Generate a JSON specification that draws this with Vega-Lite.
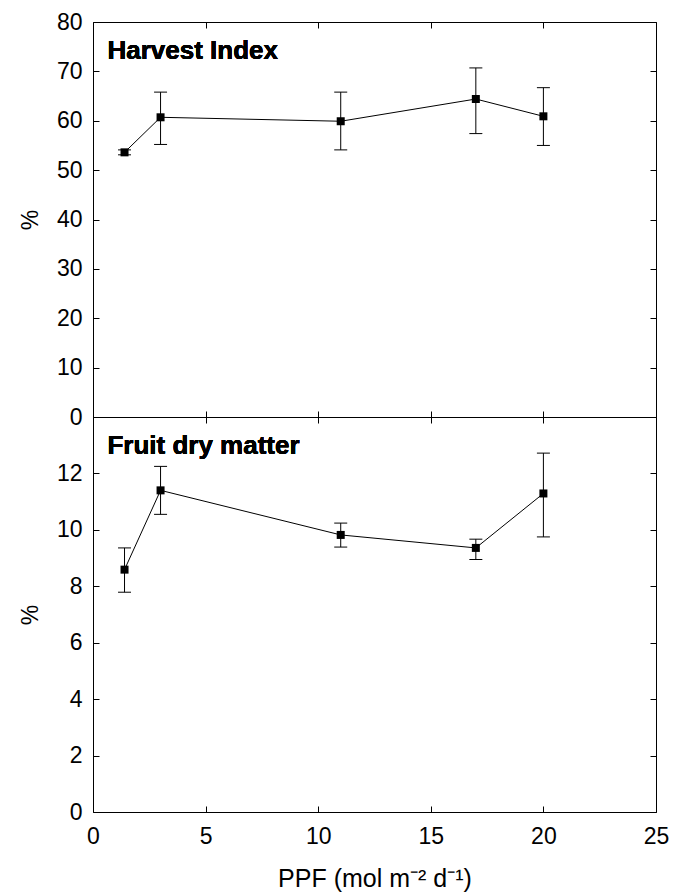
{
  "$schema": "https://vega.github.io/schema/vega-lite/v6.json",
  "padding": {"left": 19, "top": 11, "right": 20, "bottom": 5},
  "background": "white",
  "spacing": 0,
  "bounds": "flush",
  "config": {
    "view": {"stroke": null},
    "font": "Liberation Sans",
    "axis": {
      "grid": false,
      "domainColor": "#000",
      "domainWidth": 1,
      "tickColor": "#000",
      "tickSize": -6,
      "tickWidth": 1,
      "labelFlush": false,
      "labelOverlap": false,
      "labelFont": "Liberation Sans",
      "labelFontSize": 23,
      "labelColor": "#000",
      "titleFont": "Liberation Sans",
      "titleFontSize": 23,
      "titleFontWeight": "normal",
      "titleColor": "#000"
    },
    "axisLeft": {"labelPadding": 17},
    "axisBottom": {"labelPadding": 19}
  },
  "datasets": {
    "hi": [
      {"ppf": 1.4, "mean": 53.6, "lo": 53.1, "hi": 54.1},
      {"ppf": 3, "mean": 60.7, "lo": 55.2, "hi": 65.8},
      {"ppf": 11, "mean": 59.9, "lo": 54.1, "hi": 65.8},
      {"ppf": 17, "mean": 64.4, "lo": 57.4, "hi": 70.7},
      {"ppf": 20, "mean": 60.9, "lo": 55.0, "hi": 66.7}
    ],
    "fdm": [
      {"ppf": 1.4, "mean": 8.59, "lo": 7.79, "hi": 9.36},
      {"ppf": 3, "mean": 11.4, "lo": 10.55, "hi": 12.25},
      {"ppf": 11, "mean": 9.82, "lo": 9.39, "hi": 10.24},
      {"ppf": 17, "mean": 9.36, "lo": 8.95, "hi": 9.67},
      {"ppf": 20, "mean": 11.29, "lo": 9.75, "hi": 12.72}
    ]
  },
  "vconcat": [
    {
      "width": 563,
      "height": 395,
      "data": {"name": "hi"},
      "resolve": {"axis": {"x": "independent", "y": "independent"}},
      "layer": [
        {
          "mark": {"type": "line", "color": "#000", "strokeWidth": 1},
          "encoding": {
            "x": {"field": "ppf", "type": "quantitative", "scale": {"domain": [0, 25], "nice": false},
                  "axis": {"orient": "bottom", "values": [0, 5, 10, 15, 20, 25], "labels": false, "title": null}},
            "y": {"field": "mean", "type": "quantitative", "scale": {"domain": [0, 80], "nice": false},
                  "axis": {"orient": "left", "values": [0, 10, 20, 30, 40, 50, 60, 70, 80], "title": "%", "titlePadding": 14}}
          }
        },
        {
          "mark": {"type": "rule", "color": "#000", "strokeWidth": 1},
          "encoding": {
            "x": {"field": "ppf", "type": "quantitative",
                  "axis": {"orient": "top", "values": [0, 5, 10, 15, 20, 25], "labels": false, "title": null}},
            "y": {"field": "lo", "type": "quantitative",
                  "axis": {"orient": "right", "values": [0, 10, 20, 30, 40, 50, 60, 70, 80], "labels": false, "title": null}},
            "y2": {"field": "hi"}
          }
        },
        {
          "mark": {"type": "tick", "orient": "horizontal", "size": 13, "thickness": 1, "color": "#000", "opacity": 1},
          "encoding": {
            "x": {"field": "ppf", "type": "quantitative", "axis": null},
            "y": {"field": "lo", "type": "quantitative", "axis": null}
          }
        },
        {
          "mark": {"type": "tick", "orient": "horizontal", "size": 13, "thickness": 1, "color": "#000", "opacity": 1},
          "encoding": {
            "x": {"field": "ppf", "type": "quantitative", "axis": null},
            "y": {"field": "hi", "type": "quantitative", "axis": null}
          }
        },
        {
          "mark": {"type": "point", "filled": true, "shape": "square", "size": 64, "color": "#000", "opacity": 1},
          "encoding": {
            "x": {"field": "ppf", "type": "quantitative", "axis": null},
            "y": {"field": "mean", "type": "quantitative", "axis": null}
          }
        },
        {
          "mark": {"type": "text", "text": "Harvest Index", "align": "left", "baseline": "alphabetic", "fontSize": 26, "fontWeight": "bold", "font": "Liberation Sans", "color": "#000"},
          "encoding": {
            "x": {"datum": 0.64, "type": "quantitative", "axis": null},
            "y": {"datum": 72.5, "type": "quantitative", "axis": null}
          }
        }
      ]
    },
    {
      "width": 563,
      "height": 395,
      "data": {"name": "fdm"},
      "resolve": {"axis": {"x": "independent", "y": "independent"}},
      "layer": [
        {
          "mark": {"type": "line", "color": "#000", "strokeWidth": 1},
          "encoding": {
            "x": {"field": "ppf", "type": "quantitative", "scale": {"domain": [0, 25], "nice": false},
                  "axis": {"orient": "bottom", "values": [0, 5, 10, 15, 20, 25], "title": "PPF (mol m⁻² d⁻¹)", "titleFontSize": 25, "titlePadding": 18}},
            "y": {"field": "mean", "type": "quantitative", "scale": {"domain": [0, 14], "nice": false},
                  "axis": {"orient": "left", "values": [0, 2, 4, 6, 8, 10, 12], "title": "%", "titlePadding": 14}}
          }
        },
        {
          "mark": {"type": "rule", "color": "#000", "strokeWidth": 1},
          "encoding": {
            "x": {"field": "ppf", "type": "quantitative",
                  "axis": {"orient": "top", "values": [0, 5, 10, 15, 20, 25], "labels": false, "title": null}},
            "y": {"field": "lo", "type": "quantitative",
                  "axis": {"orient": "right", "values": [0, 2, 4, 6, 8, 10, 12], "labels": false, "title": null}},
            "y2": {"field": "hi"}
          }
        },
        {
          "mark": {"type": "tick", "orient": "horizontal", "size": 13, "thickness": 1, "color": "#000", "opacity": 1},
          "encoding": {
            "x": {"field": "ppf", "type": "quantitative", "axis": null},
            "y": {"field": "lo", "type": "quantitative", "axis": null}
          }
        },
        {
          "mark": {"type": "tick", "orient": "horizontal", "size": 13, "thickness": 1, "color": "#000", "opacity": 1},
          "encoding": {
            "x": {"field": "ppf", "type": "quantitative", "axis": null},
            "y": {"field": "hi", "type": "quantitative", "axis": null}
          }
        },
        {
          "mark": {"type": "point", "filled": true, "shape": "square", "size": 64, "color": "#000", "opacity": 1},
          "encoding": {
            "x": {"field": "ppf", "type": "quantitative", "axis": null},
            "y": {"field": "mean", "type": "quantitative", "axis": null}
          }
        },
        {
          "mark": {"type": "text", "text": "Fruit dry matter", "align": "left", "baseline": "alphabetic", "fontSize": 26, "fontWeight": "bold", "font": "Liberation Sans", "color": "#000"},
          "encoding": {
            "x": {"datum": 0.64, "type": "quantitative", "axis": null},
            "y": {"datum": 12.68, "type": "quantitative", "axis": null}
          }
        }
      ]
    }
  ]
}
